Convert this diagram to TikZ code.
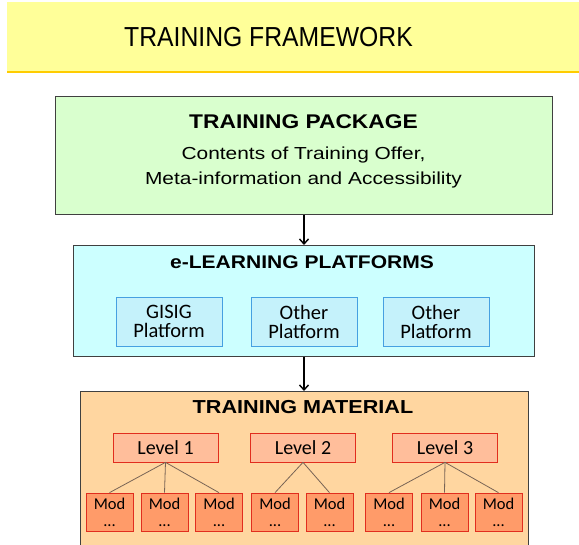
\documentclass[tikz,border=0pt]{standalone}
\usepackage{fontspec}
\setmainfont{Liberation Sans}
\newfontfamily\titlef[FakeStretch=0.9]{Liberation Sans}
\newfontfamily\headf[FakeStretch=1.15]{Liberation Sans}
\newfontfamily\contf[FakeStretch=1.2]{Liberation Sans}
\newfontfamily\calf{Carlito}
\usetikzlibrary{arrows.meta}
\definecolor{bandyellow}{RGB}{255,255,153}
\definecolor{bandline}{RGB}{255,204,0}
\definecolor{pkggreen}{RGB}{217,255,206}
\definecolor{platcyan}{RGB}{204,255,255}
\definecolor{subcyan}{RGB}{197,242,251}
\definecolor{subblue}{RGB}{70,160,225}
\definecolor{matorange}{RGB}{255,214,160}
\definecolor{lvlsalmon}{RGB}{255,190,155}
\definecolor{modorange}{RGB}{255,155,105}
\definecolor{boxred}{RGB}{225,45,30}
\definecolor{boxgray}{RGB}{64,64,64}
\definecolor{linkbrown}{RGB}{120,100,85}
\tikzset{
  bigbox/.style={draw=boxgray, line width=0.8pt, inner sep=0pt, anchor=north west},
  platbox/.style={draw=subblue, fill=subcyan, line width=0.7pt, inner sep=0pt,
    minimum width=106pt, minimum height=49pt, align=center,
    font=\calf\fontsize{20.5}{19}\selectfont},
  lvlbox/.style={draw=boxred, fill=lvlsalmon, line width=0.7pt, inner sep=0pt,
    minimum width=105pt, minimum height=29pt, font=\calf\fontsize{20}{20}\selectfont},
  modbox/.style={draw=boxred, fill=modorange, line width=0.7pt, inner sep=0pt,
    minimum width=47pt, minimum height=38pt, align=center,
    font=\calf\fontsize{16.5}{17}\selectfont},
  headtext/.style={inner sep=0pt, font=\headf\bfseries\fontsize{18.3}{18.3}\selectfont},
  flow/.style={line width=1.6pt, -{Straight Barb[length=5pt,width=9pt,line width=1.4pt]}},
  link/.style={draw=linkbrown, line width=0.8pt},
}
\begin{document}
\begin{tikzpicture}[x=1pt,y=-1pt]
\useasboundingbox (0,0) rectangle (579,545);
% title band
\fill[bandyellow] (7,2) rectangle (579,72);
\draw[bandline, line width=1.5pt] (7,72) -- (579,72);
\node[inner sep=0pt, font=\titlef\fontsize{27.5}{27.5}\selectfont] (title) at (268.5,37) {TRAINING FRAMEWORK};
% training package
\node[bigbox, fill=pkggreen, minimum width=497pt, minimum height=118pt] (pkg) at (55,96) {};
\node[headtext, font=\headf\bfseries\fontsize{19.8}{19.8}\selectfont] (pkgtitle) at (303.5,122) {TRAINING PACKAGE};
\node[inner sep=0pt, align=center, font=\contf\fontsize{17.4}{25}\selectfont] (pkgtext) at (303.5,168) {Contents of Training Offer,\\Meta-information and Accessibility};
% e-learning platforms
\node[bigbox, fill=platcyan, minimum width=461pt, minimum height=111pt] (plat) at (73,245) {};
\node[headtext] (plattitle) at (302,262) {e-LEARNING PLATFORMS};
\node[platbox] (p1) at (169,321.5) {GISIG\\Platform};
\node[platbox] (p2) at (304,321.5) {Other\\Platform};
\node[platbox] (p3) at (436,321.5) {Other\\Platform};
% training material
\node[bigbox, fill=matorange, minimum width=448pt, minimum height=170pt] (mat) at (80,391) {};
\node[headtext, font=\headf\bfseries\fontsize{18.8}{18.8}\selectfont] (mattitle) at (303,407) {TRAINING MATERIAL};
\node[lvlbox] (l1) at (165.5,447.5) {Level 1};
\node[lvlbox] (l2) at (303,447.5) {Level 2};
\node[lvlbox] (l3) at (445,447.5) {Level 3};
\node[modbox] (m1) at (109.5,512) {Mod\\...};
\node[modbox] (m2) at (164.5,512) {Mod\\...};
\node[modbox] (m3) at (219,512) {Mod\\...};
\node[modbox] (m4) at (275,512) {Mod\\...};
\node[modbox] (m5) at (329.5,512) {Mod\\...};
\node[modbox] (m6) at (389,512) {Mod\\...};
\node[modbox] (m7) at (444.5,512) {Mod\\...};
\node[modbox] (m8) at (498.5,512) {Mod\\...};
\foreach \m in {m1,m2,m3} \draw[link] (l1.south) -- (\m.north);
\foreach \m in {m4,m5} \draw[link] (l2.south) -- (\m.north);
\foreach \m in {m6,m7,m8} \draw[link] (l3.south) -- (\m.north);
% arrows
\draw[flow] (pkg.south -| 304,0) -- (plat.north -| 304,0);
\draw[flow] (plat.south -| 304,0) -- (mat.north -| 304,0);
\end{tikzpicture}
\end{document}
